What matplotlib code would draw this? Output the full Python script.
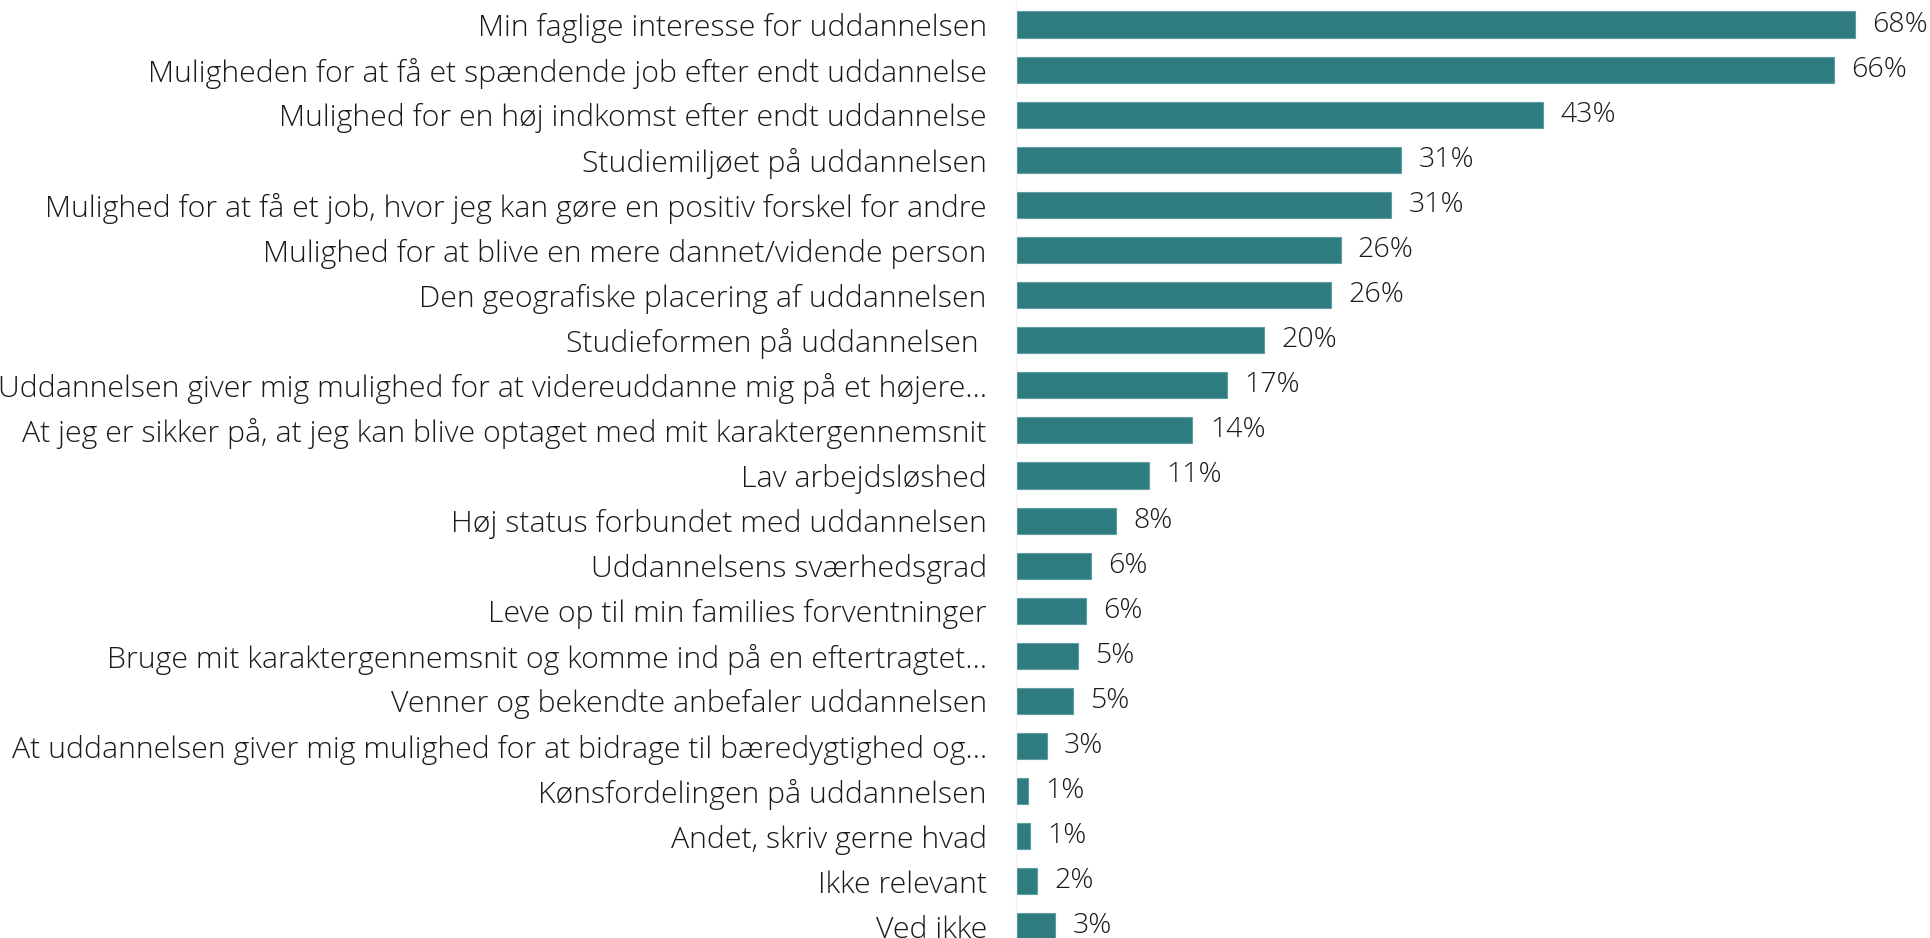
import matplotlib
matplotlib.use("Agg")
import matplotlib.pyplot as plt

categories = [
    "Min faglige interesse for uddannelsen",
    "Muligheden for at få et spændende job efter endt uddannelse",
    "Mulighed for en høj indkomst efter endt uddannelse",
    "Studiemiljøet på uddannelsen",
    "Mulighed for at få et job, hvor jeg kan gøre en positiv forskel for andre",
    "Mulighed for at blive en mere dannet/vidende person",
    "Den geografiske placering af uddannelsen",
    "Studieformen på uddannelsen ",
    "Uddannelsen giver mig mulighed for at videreuddanne mig på et højere…",
    "At jeg er sikker på, at jeg kan blive optaget med mit karaktergennemsnit",
    "Lav arbejdsløshed",
    "Høj status forbundet med uddannelsen",
    "Uddannelsens sværhedsgrad",
    "Leve op til min families forventninger",
    "Bruge mit karaktergennemsnit og komme ind på en eftertragtet…",
    "Venner og bekendte anbefaler uddannelsen",
    "At uddannelsen giver mig mulighed for at bidrage til bæredygtighed og…",
    "Kønsfordelingen på uddannelsen",
    "Andet, skriv gerne hvad",
    "Ikke relevant",
    "Ved ikke",
]
values = [68.0, 66.3, 42.7, 31.2, 30.4, 26.3, 25.5, 20.1, 17.1, 14.3, 10.8,
          8.1, 6.1, 5.7, 5.0, 4.6, 2.5, 1.0, 1.1, 1.7, 3.2]
value_labels = ["68%", "66%", "43%", "31%", "31%", "26%", "26%", "20%", "17%",
                "14%", "11%", "8%", "6%", "6%", "5%", "5%", "3%", "1%", "1%",
                "2%", "3%"]

plt.rcParams['font.family'] = ['Open Sans', 'DejaVu Sans']

W, H = 1931, 938
fig = plt.figure(figsize=(W / 100, H / 100), dpi=100)
# axes runs a bit past the bottom edge so the last bar is clipped like the original
left_px, top_px, bottom_px = 1016, 2, 949
ax = fig.add_axes([left_px / W, (H - bottom_px) / H, (W - left_px) / W, (bottom_px - top_px) / H])

bar_color = "#2f7c80"
y = range(len(categories))
ax.barh(y, values, height=0.58, color=bar_color, edgecolor="#5f9ea0", linewidth=0.8)
ax.set_ylim(len(categories) - 0.5, -0.5)
ax.set_xlim(0, 74.15)

for i, (v, lab) in enumerate(zip(values, value_labels)):
    ax.text(v + 1.4, i, lab, va="center", ha="left", fontsize=20.5,
            fontweight="light", color="#1a1a1a")

ax.set_yticks(list(y))
ax.set_yticklabels(categories, fontsize=21.8, fontweight="light", color="#1a1a1a")
ax.tick_params(axis="y", length=0, pad=21)
ax.set_xticks([])
for s in ["top", "right", "bottom"]:
    ax.spines[s].set_visible(False)
ax.spines["left"].set_color("#f2f2f2")
ax.spines["left"].set_linewidth(1)

fig.savefig("out.png", dpi=100, facecolor="white")
